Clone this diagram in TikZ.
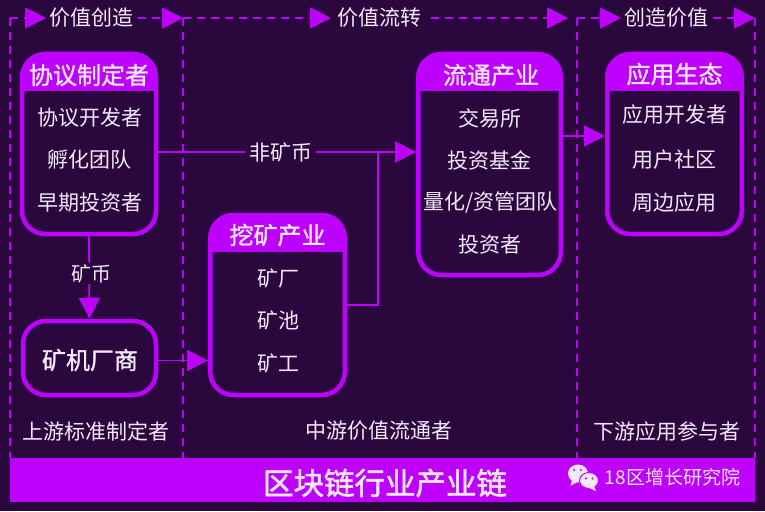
\documentclass[tikz,border=0pt]{standalone}
\usepackage{fontspec}
\setmainfont{Noto Sans CJK SC}
\newfontfamily\headfont[FakeBold=1.2]{Noto Sans CJK SC}
\newfontfamily\titlefont[FakeBold=1.6]{Noto Sans CJK SC}
\usetikzlibrary{arrows.meta}
\definecolor{bgdark}{HTML}{2A083E}
\definecolor{vio}{HTML}{BE00FF}
\definecolor{lilac}{HTML}{F6E8FC}
\tikzset{
  panelbox/.style={draw=vio, line width=4.5pt, rounded corners=23pt, fill=bgdark, inner sep=0pt},
  headbox/.style={panelbox, path picture={\fill[vio, sharp corners] (path picture bounding box.north west) rectangle ([yshift=-37pt]path picture bounding box.north east);}},
  head/.style={text=lilac, font=\fontsize{24}{24}\headfont, inner sep=0pt},
  item/.style={text=lilac, font=\fontsize{21}{21}\selectfont, inner sep=0pt},
  colline/.style={draw=vio, line width=2pt, dash pattern=on 8pt off 6pt},
  link/.style={draw=vio, line width=1.8pt},
  tip/.style={-{Triangle[length=21pt,width=21pt]}},
}
\begin{document}
\begin{tikzpicture}[x=1pt,y=-1pt]

\fill[bgdark] (0,0) rectangle (765,511);
\useasboundingbox (0,0) rectangle (765,511);

% Column corners and free ends
\coordinate (colAtop) at (10,18);
\coordinate (colAbot) at (10,458);
\coordinate (colBtop) at (183,18);
\coordinate (colBbot) at (183,458);
\coordinate (colCtop) at (577,18);
\coordinate (colCbot) at (577,458);
\coordinate (colDtop) at (755,18);
\coordinate (colDbot) at (755,458);
\coordinate (tipA) at (46,18);
\coordinate (tipB) at (331,18);
\coordinate (tipC) at (568,18);
\coordinate (tipD) at (621,18);
\coordinate (junction) at (378,152);

% Stage labels
\node[item] (valA) at (91.5,18) {价值创造};
\node[item] (valB) at (379,18) {价值流转};
\node[item] (valC) at (666.5,18) {创造价值};

% Dashed columns
\draw[colline] (colAtop) -- (colAbot);
\draw[colline] (colBtop) -- (colBbot);
\draw[colline] (colCtop) -- (colCbot);
\draw[colline] (colDtop) -- (colDbot);
\draw[colline, tip] (colAtop) -- (tipA);
\draw[colline, tip] ([xshift=4pt]valA.east) -- (colBtop);
\draw[colline, tip] (colBtop) -- (tipB);
\draw[colline, tip] ([xshift=10pt]valB.east) -- (tipC);
\draw[colline, tip] (colCtop) -- (tipD);
\draw[colline, tip] ([xshift=4pt]valC.east) -- (colDtop);

% Boxes
\node[headbox, minimum width=134pt, minimum height=180pt] (proto) at (89,144) {};
\node[panelbox, minimum width=133pt, minimum height=74pt] (maker) at (89.5,358) {};
\node[headbox, minimum width=134.5pt, minimum height=180pt] (mine) at (277.5,305) {};
\node[headbox, minimum width=142.5pt, minimum height=221pt] (circ) at (489.5,164.5) {};
\node[headbox, minimum width=134.5pt, minimum height=180pt] (app) at (674.5,144) {};

% Connectors
\draw[link, tip] ([yshift=-8pt]proto.east) -- ([yshift=-8pt]proto.east -| circ.west) node[pos=.475, fill=bgdark, item, inner xsep=4pt, inner ysep=1pt] (nonmine) {非矿币};
\draw[link] (mine.east) -| (junction);
\draw[link, tip] (proto.south) -- (maker.north) node[pos=.45, xshift=2pt, fill=bgdark, item, inner xsep=2pt, inner ysep=1pt, font=\fontsize{20}{20}\selectfont] (coin) {矿币};
\draw[link, tip] ([yshift=-2.5pt]maker.east) -- ([yshift=-2.5pt]maker.east -| mine.west);
\draw[link, tip] (circ.east |- 0,136) -- (app.west |- 0,136);

% Upstream
\node[head] (protoH) at (89,75) {协议制定者};
\node[item] (protoA) at (89.5,117.5) {协议开发者};
\node[item] (protoB) at (89.5,160) {孵化团队};
\node[item] (protoC) at (89.5,202.5) {早期投资者};
\node[head] (makerH) at (90,360) {矿机厂商};

% Midstream
\node[head] (mineH) at (277.5,235) {挖矿产业};
\node[item] (mineA) at (278,278) {矿厂};
\node[item] (mineB) at (278,320.5) {矿池};
\node[item] (mineC) at (278,363) {矿工};
\node[head] (circH) at (491,75) {流通产业};
\node[item] (circA) at (489.5,118) {交易所};
\node[item] (circB) at (489.5,160.5) {投资基金};
\node[item] (circC) at (490.5,202.5) {量化/资管团队};
\node[item] (circD) at (489.5,244.5) {投资者};

% Downstream
\node[head] (appH) at (674.5,74) {应用生态};
\node[item] (appA) at (674.5,114.5) {应用开发者};
\node[item] (appB) at (674.5,159.5) {用户社区};
\node[item] (appC) at (674.5,202.5) {周边应用};

% Bottom captions
\node[item] (capA) at (95.5,431) {上游标准制定者};
\node[item] (capB) at (379,431) {中游价值流通者};
\node[item] (capC) at (666.5,431.5) {下游应用参与者};

% Title band
\node[fill=vio, minimum width=745pt, minimum height=44pt, inner sep=0pt] (band) at (382.5,480) {};
\node[text=lilac, font=\fontsize{30.5}{30.5}\titlefont, inner sep=0pt] (title) at (385,483) {区块链行业产业链};
\node[text=lilac, font=\fontsize{19}{19}\selectfont, inner sep=0pt] (mark) at (672.5,477.5) {18区增长研究院};

% Chat icon
\fill[lilac] (578,473.5) ellipse (10 and 9);
\fill[lilac] (572,480) -- (570.5,486) -- (577,482) -- cycle;
\fill[lilac, draw=vio, line width=1pt] (589,480.5) ellipse (9.5 and 8);
\fill[lilac] (594,486) -- (596,491) -- (589,488) -- cycle;
\fill[vio] (574,470) circle (1.2) (581,470) circle (1.2) (586,478.5) circle (1.1) (592.5,478.5) circle (1.1);

\end{tikzpicture}
\end{document}
